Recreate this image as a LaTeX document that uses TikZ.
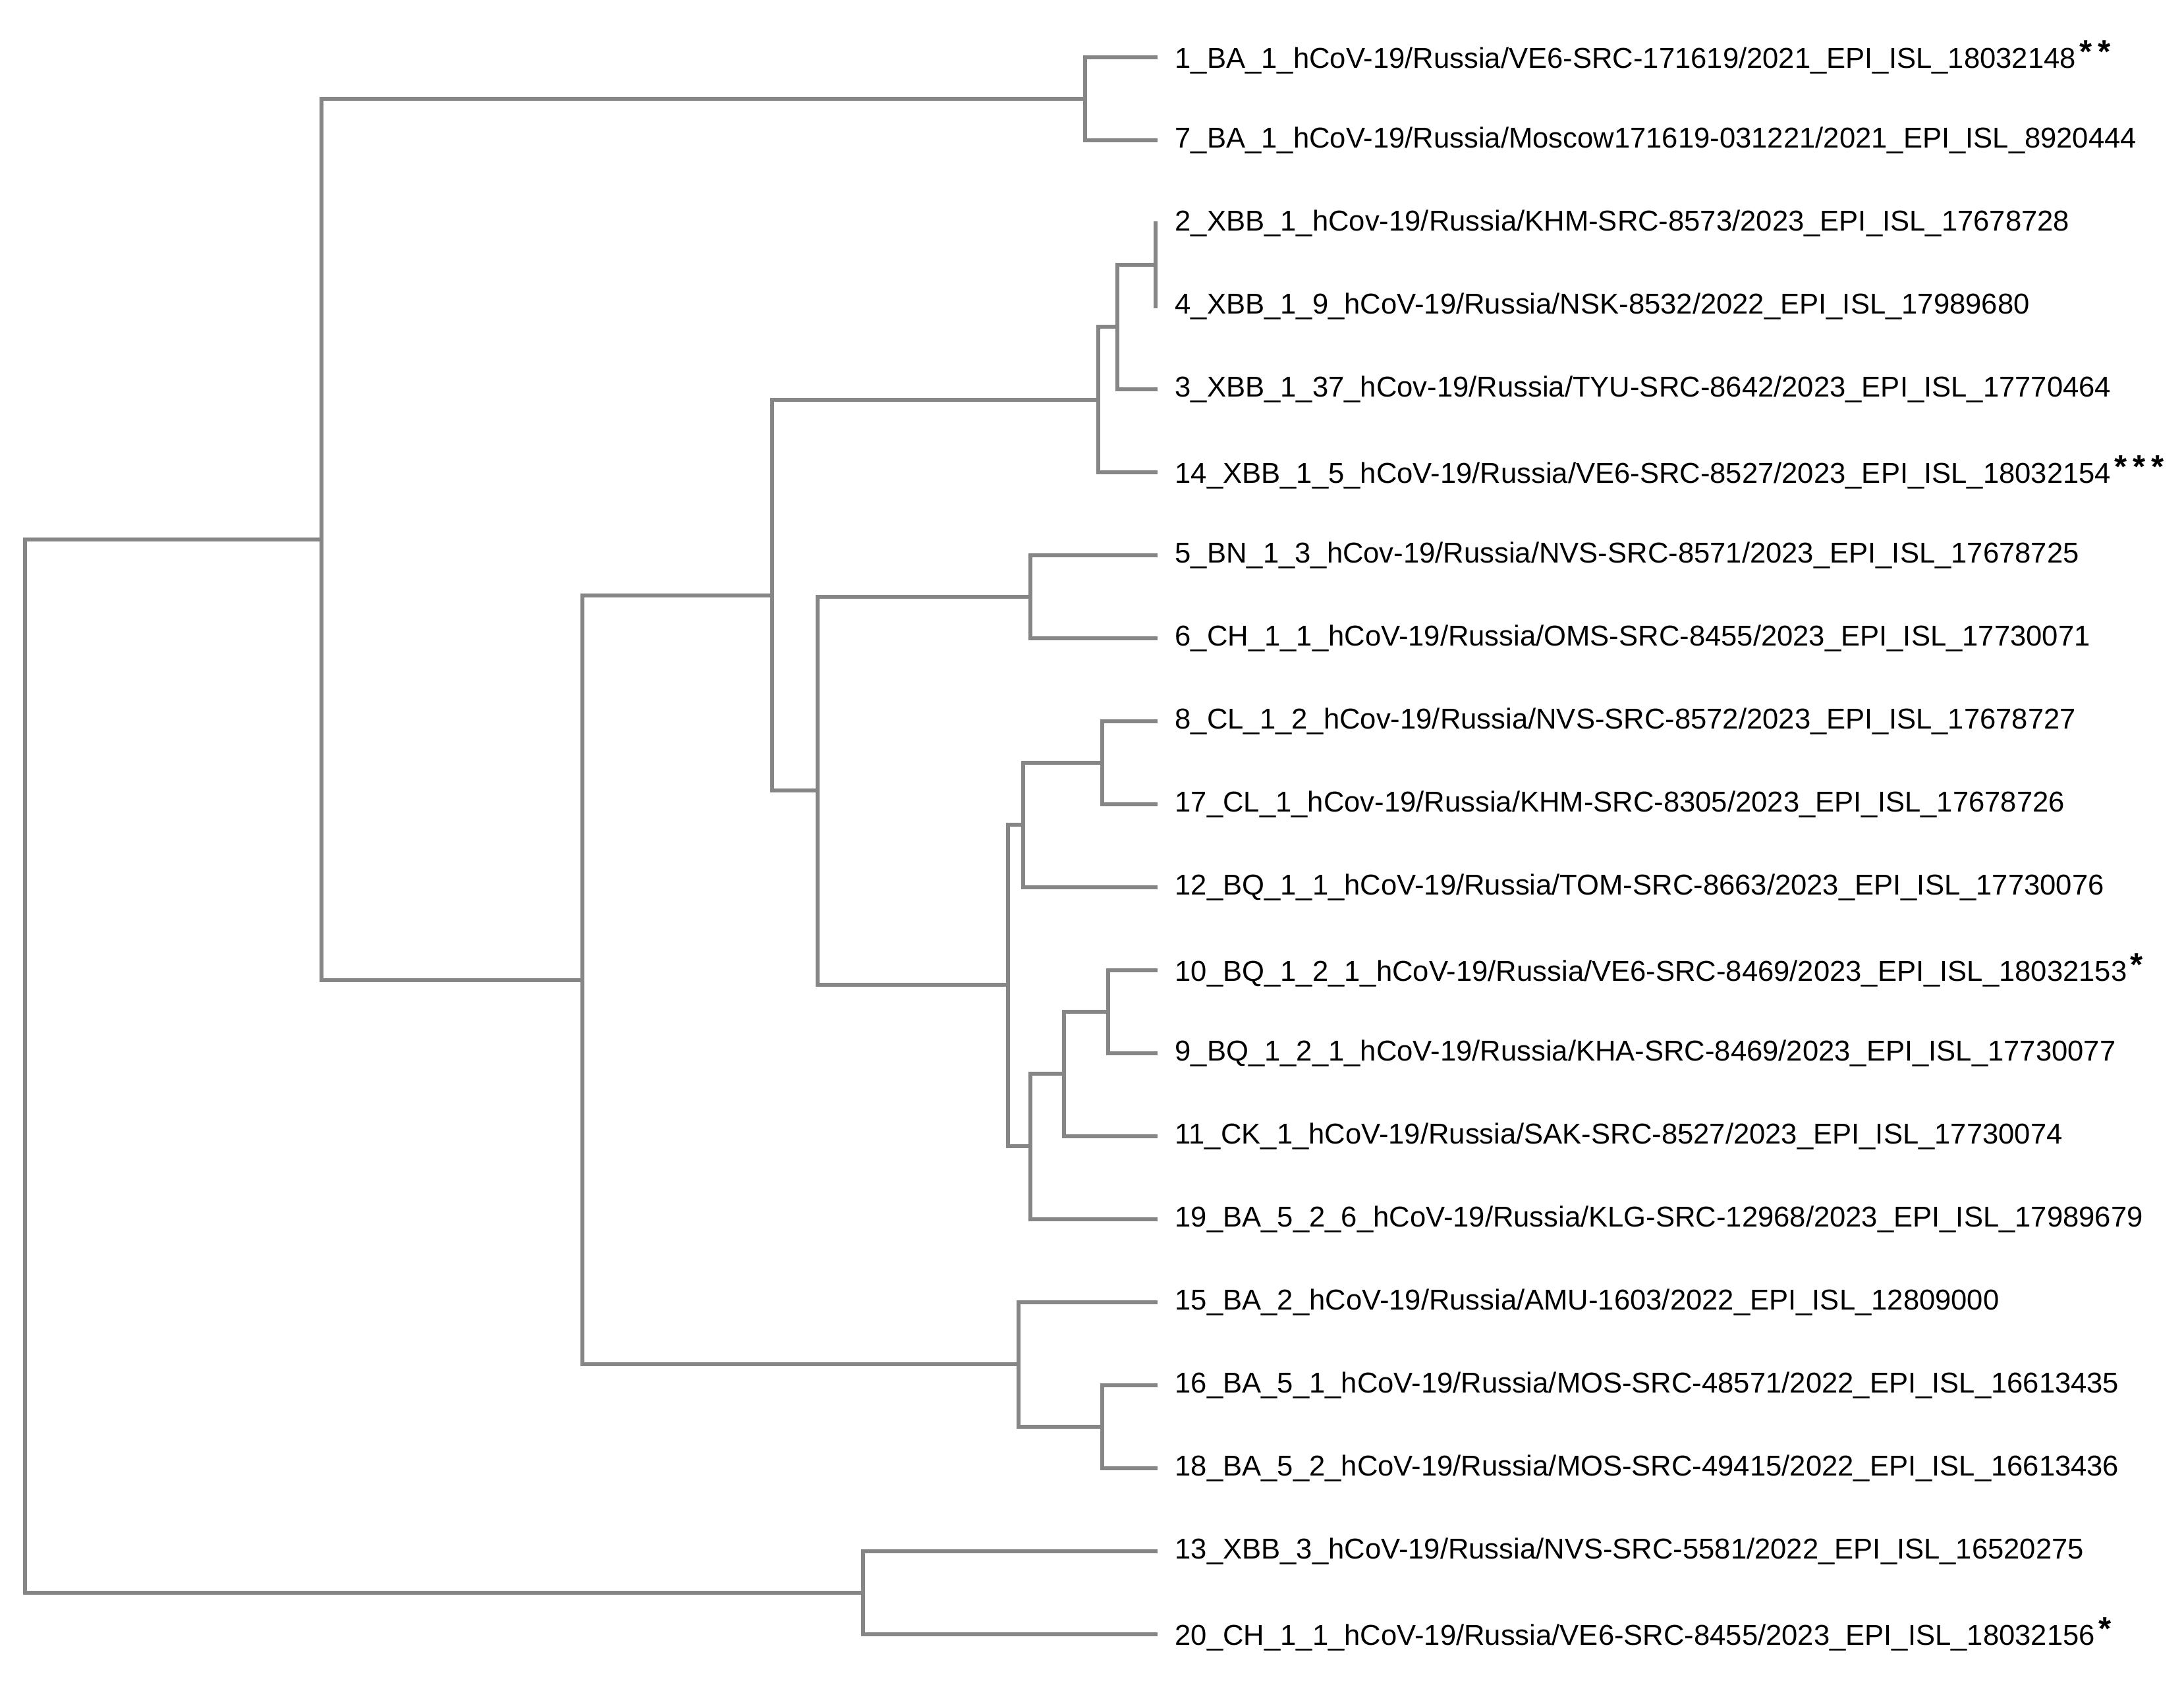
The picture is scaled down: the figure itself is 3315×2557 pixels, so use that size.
\documentclass[tikz,border=0pt]{standalone}
\usepackage{fontspec}
\setmainfont{Liberation Sans}
\definecolor{branch}{RGB}{134,134,134}
\begin{document}
\begin{tikzpicture}[x=0.01cm,y=-0.01cm,
  br/.style={draw=branch,line width=0.065cm,line cap=rect},
  leaf/.style={anchor=west,inner sep=0pt,font=\fontsize{12.4pt}{14pt}\selectfont}]
\useasboundingbox (0,0) rectangle (3315,2557);
% leaf tip positions
\foreach \n/\y in {1/87,7/213,2/339,4/465,3/591,14/717,5/843,6/969,8/1095,17/1221,12/1347,10/1473,9/1599,11/1725,19/1851,15/1977,16/2103,18/2229,13/2355,20/2481}{
  \coordinate (t\n) at (1754,\y);
}
% labels
\newcommand{\onestar}{\textbf{*}}
\newcommand{\st}[1]{\kern1.5pt\raisebox{2.2pt}{\fontsize{14pt}{14pt}\selectfont #1}}
\node[leaf] (L1) at (1783,87) {1\_BA\_1\_hCoV-19/Russia/VE6-SRC-171619/2021\_EPI\_ISL\_18032148\st{\onestar\kern2.5pt\onestar}};
\node[leaf] (L7) at (1783,213) {7\_BA\_1\_hCoV-19/Russia/Moscow171619-031221/2021\_EPI\_ISL\_8920444};
\node[leaf] (L2) at (1783,339) {2\_XBB\_1\_hCov-19/Russia/KHM-SRC-8573/2023\_EPI\_ISL\_17678728};
\node[leaf] (L4) at (1783,465) {4\_XBB\_1\_9\_hCoV-19/Russia/NSK-8532/2022\_EPI\_ISL\_17989680};
\node[leaf] (L3) at (1783,591) {3\_XBB\_1\_37\_hCov-19/Russia/TYU-SRC-8642/2023\_EPI\_ISL\_17770464};
\node[leaf] (L14) at (1783,717) {14\_XBB\_1\_5\_hCoV-19/Russia/VE6-SRC-8527/2023\_EPI\_ISL\_18032154\st{\onestar\kern2.5pt\onestar\kern2.5pt\onestar}};
\node[leaf] (L5) at (1783,843) {5\_BN\_1\_3\_hCov-19/Russia/NVS-SRC-8571/2023\_EPI\_ISL\_17678725};
\node[leaf] (L6) at (1783,969) {6\_CH\_1\_1\_hCoV-19/Russia/OMS-SRC-8455/2023\_EPI\_ISL\_17730071};
\node[leaf] (L8) at (1783,1095) {8\_CL\_1\_2\_hCov-19/Russia/NVS-SRC-8572/2023\_EPI\_ISL\_17678727};
\node[leaf] (L17) at (1783,1221) {17\_CL\_1\_hCov-19/Russia/KHM-SRC-8305/2023\_EPI\_ISL\_17678726};
\node[leaf] (L12) at (1783,1347) {12\_BQ\_1\_1\_hCoV-19/Russia/TOM-SRC-8663/2023\_EPI\_ISL\_17730076};
\node[leaf] (L10) at (1783,1473) {10\_BQ\_1\_2\_1\_hCoV-19/Russia/VE6-SRC-8469/2023\_EPI\_ISL\_18032153\st{\onestar}};
\node[leaf] (L9) at (1783,1599) {9\_BQ\_1\_2\_1\_hCoV-19/Russia/KHA-SRC-8469/2023\_EPI\_ISL\_17730077};
\node[leaf] (L11) at (1783,1725) {11\_CK\_1\_hCoV-19/Russia/SAK-SRC-8527/2023\_EPI\_ISL\_17730074};
\node[leaf] (L19) at (1783,1851) {19\_BA\_5\_2\_6\_hCoV-19/Russia/KLG-SRC-12968/2023\_EPI\_ISL\_17989679};
\node[leaf] (L15) at (1783,1977) {15\_BA\_2\_hCoV-19/Russia/AMU-1603/2022\_EPI\_ISL\_12809000};
\node[leaf] (L16) at (1783,2103) {16\_BA\_5\_1\_hCoV-19/Russia/MOS-SRC-48571/2022\_EPI\_ISL\_16613435};
\node[leaf] (L18) at (1783,2229) {18\_BA\_5\_2\_hCoV-19/Russia/MOS-SRC-49415/2022\_EPI\_ISL\_16613436};
\node[leaf] (L13) at (1783,2355) {13\_XBB\_3\_hCoV-19/Russia/NVS-SRC-5581/2022\_EPI\_ISL\_16520275};
\node[leaf] (L20) at (1783,2481) {20\_CH\_1\_1\_hCoV-19/Russia/VE6-SRC-8455/2023\_EPI\_ISL\_18032156\st{\onestar}};
% internal nodes
\coordinate (n17) at (1647,150);
\coordinate (n24) at (1754,402);
\coordinate (n243) at (1696,496);
\coordinate (nX) at (1667,607);
\coordinate (n56) at (1564,906);
\coordinate (n817) at (1673,1158);
\coordinate (nE) at (1553,1252);
\coordinate (n109) at (1682,1536);
\coordinate (nH) at (1615,1630);
\coordinate (nG) at (1564,1740);
\coordinate (nF) at (1530,1495);
\coordinate (nD) at (1241,1200);
\coordinate (nB) at (1172,904);
\coordinate (n1618) at (1673,2166);
\coordinate (n15) at (1546,2071);
\coordinate (nC) at (884,1488);
\coordinate (nA) at (488,819);
\coordinate (n1320) at (1310,2418);
\coordinate (nR) at (38,1618);
% branches
\draw[br] (n17) |- (t1);
\draw[br] (n17) |- (t7);
\draw[br] (n24) -- (t2);
\draw[br] (n24) -- (t4);
\draw[br] (n243) |- (n24);
\draw[br] (n243) |- (t3);
\draw[br] (nX) |- (n243);
\draw[br] (nX) |- (t14);
\draw[br] (n56) |- (t5);
\draw[br] (n56) |- (t6);
\draw[br] (n817) |- (t8);
\draw[br] (n817) |- (t17);
\draw[br] (nE) |- (n817);
\draw[br] (nE) |- (t12);
\draw[br] (n109) |- (t10);
\draw[br] (n109) |- (t9);
\draw[br] (nH) |- (n109);
\draw[br] (nH) |- (t11);
\draw[br] (nG) |- (nH);
\draw[br] (nG) |- (t19);
\draw[br] (nF) |- (nE);
\draw[br] (nF) |- (nG);
\draw[br] (nD) |- (n56);
\draw[br] (nD) |- (nF);
\draw[br] (nB) |- (nX);
\draw[br] (nB) |- (nD);
\draw[br] (n1618) |- (t16);
\draw[br] (n1618) |- (t18);
\draw[br] (n15) |- (t15);
\draw[br] (n15) |- (n1618);
\draw[br] (nC) |- (nB);
\draw[br] (nC) |- (n15);
\draw[br] (nA) |- (n17);
\draw[br] (nA) |- (nC);
\draw[br] (n1320) |- (t13);
\draw[br] (n1320) |- (t20);
\draw[br] (nR) |- (nA);
\draw[br] (nR) |- (n1320);
\end{tikzpicture}
\end{document}
